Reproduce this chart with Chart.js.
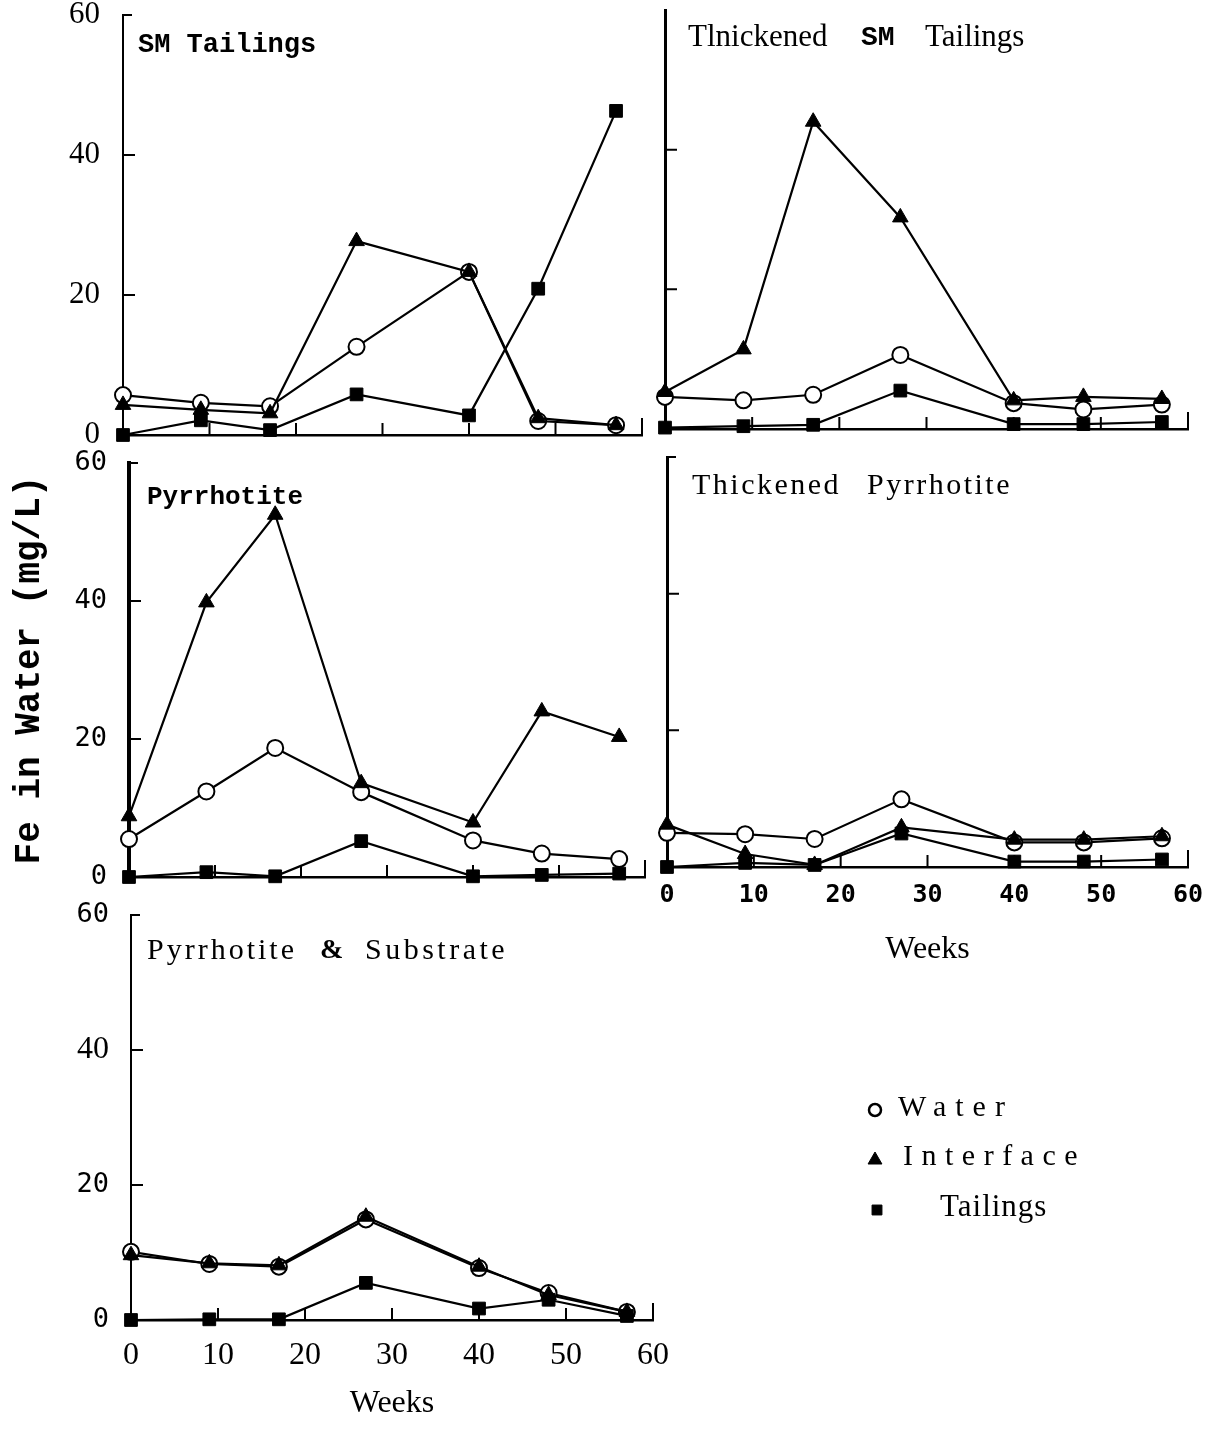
<!DOCTYPE html>
<html>
<head>
<meta charset="utf-8">
<title>Fe in water</title>
<script src="https://cdn.jsdelivr.net/npm/chart.js@4.4.1/dist/chart.umd.min.js"></script>
<style>
  html, body { margin: 0; background: #fff; }
  body { width: 1220px; height: 1432px; position: relative; overflow: hidden; }
  canvas { position: absolute; }
</style>
</head>
<body>
<script>
"use strict";

const weeks = [0, 9, 17, 27, 40, 48, 57];
const weekTicks = [0, 10, 20, 30, 40, 50, 60];
const feTicks = [0, 20, 40, 60];

// Fe in mg/L: water column, sediment interface, tailings pore water
const smWater = [5.7, 4.6, 4.1, 12.6, 23.3, 2.0, 1.4];
const smInterface = [4.3, 3.6, 3.1, 27.7, 23.3, 2.4, 1.4];
const smTailings = [0, 2.1, 0.7, 5.8, 2.8, 20.9, 46.3];

const thickSmWater = [4.6, 4.1, 4.9, 10.6, 3.7, 2.8, 3.5];
const thickSmInterface = [5.3, 11.4, 44.0, 30.3, 4.1, 4.6, 4.3];
const thickSmTailings = [0.2, 0.4, 0.6, 5.5, 0.7, 0.7, 1.0];

const poWater = [5.5, 12.4, 18.7, 12.3, 5.3, 3.4, 2.6];
const poInterface = [8.8, 39.8, 52.5, 13.6, 7.9, 24.0, 20.3];
const poTailings = [0, 0.7, 0.1, 5.2, 0.1, 0.3, 0.5];

const thickPoWater = [5.0, 4.8, 4.1, 9.9, 3.6, 3.6, 4.2];
const thickPoInterface = [6.2, 1.9, 0.3, 5.8, 4.0, 4.0, 4.5];
const thickPoTailings = [0, 0.6, 0.3, 4.9, 0.8, 0.8, 1.1];

const subWater = [10.1, 8.3, 7.9, 14.9, 7.7, 4.0, 1.2];
const subInterface = [9.6, 8.4, 8.1, 15.3, 7.9, 3.7, 1.2];
const subTailings = [0, 0.1, 0.1, 5.5, 1.7, 3.0, 0.6];

const serif = '"Liberation Serif", "Times New Roman", serif';
const mono = '"Liberation Mono", "DejaVu Sans Mono", monospace';
const sansMono = '"DejaVu Sans Mono", monospace';

const styles = {
  Water: { pointStyle: "circle", pointRadius: 8, pointBackgroundColor: "#fff", pointBorderWidth: 2, order: 2 },
  Interface: { pointStyle: "triangle", pointRadius: 9, pointBackgroundColor: "#000", pointBorderWidth: 1, order: 1 },
  Tailings: { pointStyle: "rect", pointRadius: 9, pointBackgroundColor: "#000", pointBorderWidth: 1, order: 0 },
};

function series(label, values) {
  return Object.assign(
    {
      label,
      data: weeks.map((w, i) => ({ x: w, y: values[i] })),
      borderColor: "#000",
      borderWidth: 2.2,
      pointBorderColor: "#000",
      tension: 0,
      clip: false,
    },
    styles[label],
  );
}

// short marks pointing into the plot at each tick
const innerTicks = {
  id: "innerTicks",
  beforeDatasetsDraw(chart, args, opts) {
    const { ctx, chartArea: a, scales } = chart;
    ctx.save();
    ctx.strokeStyle = "#000";
    ctx.lineWidth = 2;
    ctx.beginPath();
    for (const v of opts.x || []) {
      const px = scales.x.getPixelForValue(v);
      ctx.moveTo(px, a.bottom);
      ctx.lineTo(px, a.bottom - (v === 60 ? 17 : 12));
    }
    for (const v of opts.y || []) {
      const py = scales.y.getPixelForValue(v);
      ctx.moveTo(a.left, py);
      ctx.lineTo(a.left + (v === 60 ? 9 : 12), py);
    }
    ctx.stroke();
    ctx.restore();
  },
};

const panelText = {
  id: "panelText",
  afterDraw(chart, args, opts) {
    const { ctx, chartArea: a } = chart;
    for (const p of opts.parts || []) {
      ctx.save();
      ctx.font = p.font;
      ctx.letterSpacing = (p.spacing || 0) + "px";
      ctx.fillStyle = "#000";
      ctx.textBaseline = "middle";
      ctx.fillText(p.text, a.left + p.dx, a.top + p.dy);
      ctx.restore();
    }
  },
};

// legend sits to the right of the last panel
const sideLegend = {
  id: "sideLegend",
  afterDraw(chart, args, opts) {
    if (!opts.items) return;
    const { ctx, chartArea: a } = chart;
    const drawPoint = Chart.helpers.drawPoint;
    chart.data.datasets.forEach((ds, i) => {
      const it = opts.items[i];
      ctx.save();
      ctx.fillStyle = ds.pointBackgroundColor;
      ctx.strokeStyle = "#000";
      ctx.lineWidth = it.border;
      drawPoint(ctx, { pointStyle: ds.pointStyle, radius: it.radius, borderWidth: it.border, rotation: 0 },
        a.left + it.mx, a.top + it.my);
      ctx.fillStyle = "#000";
      ctx.font = it.font;
      ctx.letterSpacing = it.spacing + "px";
      ctx.textBaseline = "middle";
      ctx.fillText(ds.label, a.left + it.tx, a.top + it.ty);
      ctx.restore();
    });
  },
};

function panel(box, area, cfg) {
  const [left, top, width, height] = box;
  const canvas = document.createElement("canvas");
  canvas.width = width;
  canvas.height = height;
  canvas.style.left = left + "px";
  canvas.style.top = top + "px";
  document.body.appendChild(canvas);

  const yWidth = area.x0 - left;
  const xHeight = top + height - area.bottom;

  return new Chart(canvas.getContext("2d"), {
    type: "line",
    data: {
      datasets: [
        series("Water", cfg.data[0]),
        series("Interface", cfg.data[1]),
        series("Tailings", cfg.data[2]),
      ],
    },
    options: {
      responsive: false,
      animation: false,
      events: [],
      layout: { padding: { left: 0, top: area.top - top, right: left + width - area.right, bottom: 0 } },
      scales: {
        x: {
          type: "linear",
          min: 0,
          max: 60,
          afterBuildTicks: (s) => {
            s.ticks = weekTicks.map((value) => ({ value }));
          },
          afterFit: (s) => {
            s.height = xHeight;
            s.paddingLeft = 0;
            s.paddingRight = 0;
          },
          grid: { display: false, drawTicks: false },
          border: { display: true, color: "#000", width: 2.5 },
          ticks: cfg.xTicks || { display: false },
          title: cfg.xTitle || { display: false },
        },
        y: {
          min: 0,
          max: 60,
          afterBuildTicks: (s) => {
            s.ticks = feTicks.map((value) => ({ value }));
          },
          afterFit: (s) => {
            s.width = yWidth;
            s.paddingTop = 0;
            s.paddingBottom = 0;
          },
          grid: { display: false, drawTicks: false },
          border: { display: true, color: "#000", width: cfg.yBorder || 2 },
          ticks: cfg.yTicks || { display: false },
          title: cfg.yTitle || { display: false },
        },
      },
      plugins: {
        legend: { display: false },
        tooltip: { enabled: false },
        innerTicks: { x: weekTicks.slice(1), y: cfg.yMarks },
        panelText: { parts: cfg.text },
        sideLegend: { items: cfg.legend },
      },
    },
    plugins: [innerTicks, panelText, sideLegend],
  });
}

const weeksTitle = (pb) => ({
  display: true,
  text: "Weeks",
  color: "#000",
  font: { family: serif, size: 32 },
  padding: { top: 0, bottom: pb },
});

panel([0, 0, 655, 445], { x0: 123, top: 15, right: 642, bottom: 435 }, {
  data: [smWater, smInterface, smTailings],
  yTicks: { color: "#000", padding: 23, font: { family: serif, size: 31 } },
  yMarks: [20, 40, 60],
  text: [{ text: "SM Tailings", font: "bold 27px " + mono, dx: 15, dy: 30 }],
});

panel([645, 0, 575, 445], { x0: 665, top: 9, right: 1188, bottom: 429 }, {
  data: [thickSmWater, thickSmInterface, thickSmTailings],
  yBorder: 3,
  yMarks: [20, 40],
  text: [
    { text: "Tlnickened", font: "31px " + serif, dx: 23, dy: 28 },
    { text: "SM", font: "bold 28px " + mono, dx: 196, dy: 28 },
    { text: "Tailings", font: "31px " + serif, dx: 260, dy: 28 },
  ],
});

panel([0, 445, 655, 450], { x0: 129, top: 463, right: 648, bottom: 877 }, {
  data: [poWater, poInterface, poTailings],
  yBorder: 4,
  yTicks: { color: "#000", padding: 22, font: { family: sansMono, size: 27 } },
  yTitle: {
    display: true,
    text: "Fe in Water (mg/L)",
    color: "#000",
    font: { family: mono, size: 36, weight: "bold" },
    padding: { top: 8, bottom: 0 },
  },
  yMarks: [20, 40, 60],
  text: [{ text: "Pyrrhotite", font: "bold 26px " + mono, dx: 18, dy: 34 }],
});

panel([645, 445, 575, 530], { x0: 667, top: 457, right: 1188, bottom: 867 }, {
  data: [thickPoWater, thickPoInterface, thickPoTailings],
  yBorder: 3,
  yMarks: [20, 40, 60],
  xTicks: { color: "#000", padding: 13, font: { family: sansMono, size: 25, weight: "bold" } },
  xTitle: weeksTitle(6),
  text: [
    { text: "Thickened", font: "30px " + serif, spacing: 2.5, dx: 25, dy: 29 },
    { text: "Pyrrhotite", font: "30px " + serif, spacing: 2.5, dx: 200, dy: 29 },
  ],
});

panel([0, 895, 1220, 537], { x0: 131, top: 915, right: 653, bottom: 1320 }, {
  data: [subWater, subInterface, subTailings],
  yTicks: {
    color: "#000",
    padding: 22,
    font: (ctx) =>
      ctx.tick && ctx.tick.value === 40
        ? { family: serif, size: 32 }
        : { family: sansMono, size: 27 },
  },
  yMarks: [20, 40, 60],
  xTicks: { color: "#000", padding: 16, font: { family: serif, size: 32 } },
  xTitle: weeksTitle(9),
  text: [
    { text: "Pyrrhotite", font: "30px " + serif, spacing: 3, dx: 16, dy: 36 },
    { text: "&", font: "bold 28px " + serif, dx: 189, dy: 36 },
    { text: "Substrate", font: "30px " + serif, spacing: 3.5, dx: 234, dy: 36 },
  ],
  legend: [
    { mx: 744, my: 195, radius: 6, border: 2.5, tx: 767, ty: 193, font: "30px " + serif, spacing: 9 },
    { mx: 744, my: 245, radius: 8, border: 1, tx: 772, ty: 242, font: "30px " + serif, spacing: 8.5 },
    { mx: 746, my: 295, radius: 7, border: 1, tx: 809, ty: 293, font: "31px " + serif, spacing: 1 },
  ],
});
</script>
</body>
</html>
